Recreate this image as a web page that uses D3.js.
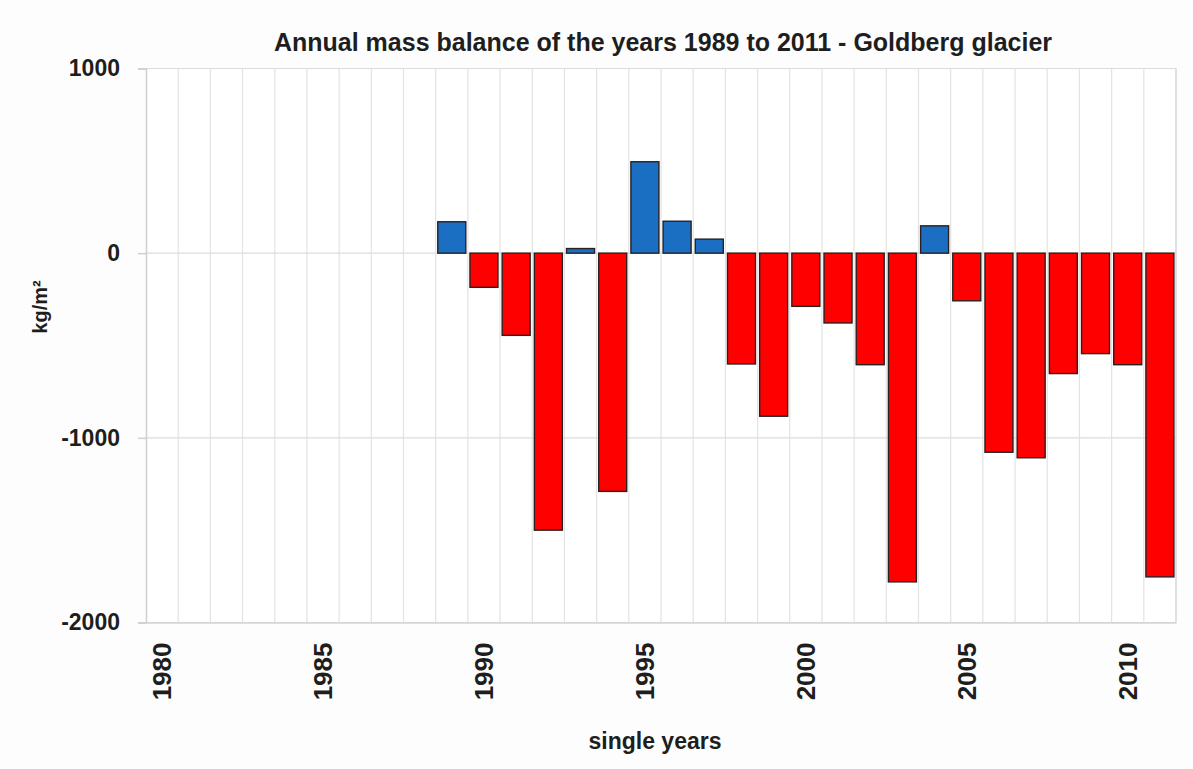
<!DOCTYPE html>
<html>
<head>
<meta charset="utf-8">
<script src="https://cdn.jsdelivr.net/npm/d3@7"></script>
<style>
  html, body { margin: 0; padding: 0; background: #fdfdfd; }
  svg text { font-family: "Liberation Sans", Arial, sans-serif; font-weight: bold; fill: #1e1e1e; }
</style>
</head>
<body>
<svg id="chart" width="1193" height="769"></svg>
<script>
const years = d3.range(1980, 2012);
const dataYears = [1989,1990,1991,1992,1993,1994,1995,1996,1997,1998,1999,2000,2001,2002,2003,2004,2005,2006,2007,2008,2009,2010,2011];
const massBalance = [170,-185,-445,-1500,25,-1290,495,173,76,-600,-883,-288,-378,-604,-1780,148,-258,-1078,-1108,-652,-544,-604,-1753];
const yTicks = [1000, 0, -1000, -2000];
const xTickYears = [1980,1985,1990,1995,2000,2005,2010];
const titleText = "Annual mass balance of the years 1989 to 2011 - Goldberg glacier";
const yLabel = "kg/m²";
const xLabel = "single years";

const W = 1193, H = 769;
const m = { left: 146, right: 17, top: 68.5, bottom: 146.5 };
const pw = W - m.left - m.right, ph = H - m.top - m.bottom;

const svg = d3.select("#chart");
const g = svg.append("g").attr("transform", `translate(${m.left},${m.top})`);

const x = d3.scaleBand().domain(years).range([0, pw]).paddingInner(0.13).paddingOuter(0.065);
const y = d3.scaleLinear().domain([-2000, 1000]).range([ph, 0]);
const step = x.step();
const off = step * 0.065;

// plot background
g.append("rect").attr("x", 0).attr("y", 0).attr("width", pw).attr("height", ph).attr("fill", "#ffffff");

// vertical gridlines at category boundaries
g.append("g").selectAll("line").data(years.slice(1)).join("line")
  .attr("x1", d => x(d) - off).attr("x2", d => x(d) - off)
  .attr("y1", 0).attr("y2", ph)
  .attr("stroke", "#e3e3e3").attr("stroke-width", 1.2);

// horizontal gridlines
g.append("g").selectAll("line").data(yTicks).join("line")
  .attr("x1", 0).attr("x2", pw)
  .attr("y1", d => y(d)).attr("y2", d => y(d))
  .attr("stroke", "#dcdcdc").attr("stroke-width", 1.2);

// border right
g.append("line").attr("x1", pw).attr("x2", pw).attr("y1", 0).attr("y2", ph).attr("stroke", "#d6d6d6").attr("stroke-width", 1.5);

// bars
const barData = dataYears.map((yr, i) => ({ yr, v: massBalance[i] }));
g.append("g").selectAll("rect").data(barData).join("rect")
  .attr("x", d => x(d.yr))
  .attr("width", x.bandwidth())
  .attr("y", d => y(Math.max(0, d.v)))
  .attr("height", d => Math.abs(y(d.v) - y(0)))
  .attr("fill", d => d.v >= 0 ? "#1a6fc2" : "#ff0000")
  .attr("stroke", "#2a2020").attr("stroke-width", 1.4);

// y axis
const yAxis = g.append("g").call(d3.axisLeft(y).tickValues(yTicks).tickSize(8).tickPadding(18).tickFormat(d => String(d)));
yAxis.select(".domain").attr("stroke", "#cfcfcf").attr("stroke-width", 1.5);
yAxis.selectAll(".tick line").attr("stroke", "#cfcfcf").attr("stroke-width", 1.5);
yAxis.selectAll("text").style("font-size", "23px").attr("fill", "#1e1e1e");

// x axis
const xAxis = g.append("g").attr("transform", `translate(0,${ph})`)
  .call(d3.axisBottom(x).tickValues(xTickYears).tickSize(0).tickPadding(0));
xAxis.select(".domain").attr("stroke", "#d3d3d3").attr("stroke-width", 1.5);
xAxis.selectAll("text")
  .style("font-size", "26px")
  .attr("fill", "#1e1e1e")
  .attr("text-anchor", "end")
  .attr("dy", null)
  .attr("y", null)
  .attr("transform", "translate(9,20) rotate(-90)");

// title
svg.append("text").attr("x", 663).attr("y", 51).attr("text-anchor", "middle")
  .style("font-size", "25px").text(titleText);

// y label
svg.append("text").attr("transform", "translate(47,307) rotate(-90)").attr("text-anchor", "middle")
  .style("font-size", "20px").text(yLabel);

// x label
svg.append("text").attr("x", 655).attr("y", 749).attr("text-anchor", "middle")
  .style("font-size", "23px").text(xLabel);
</script>
</body>
</html>
